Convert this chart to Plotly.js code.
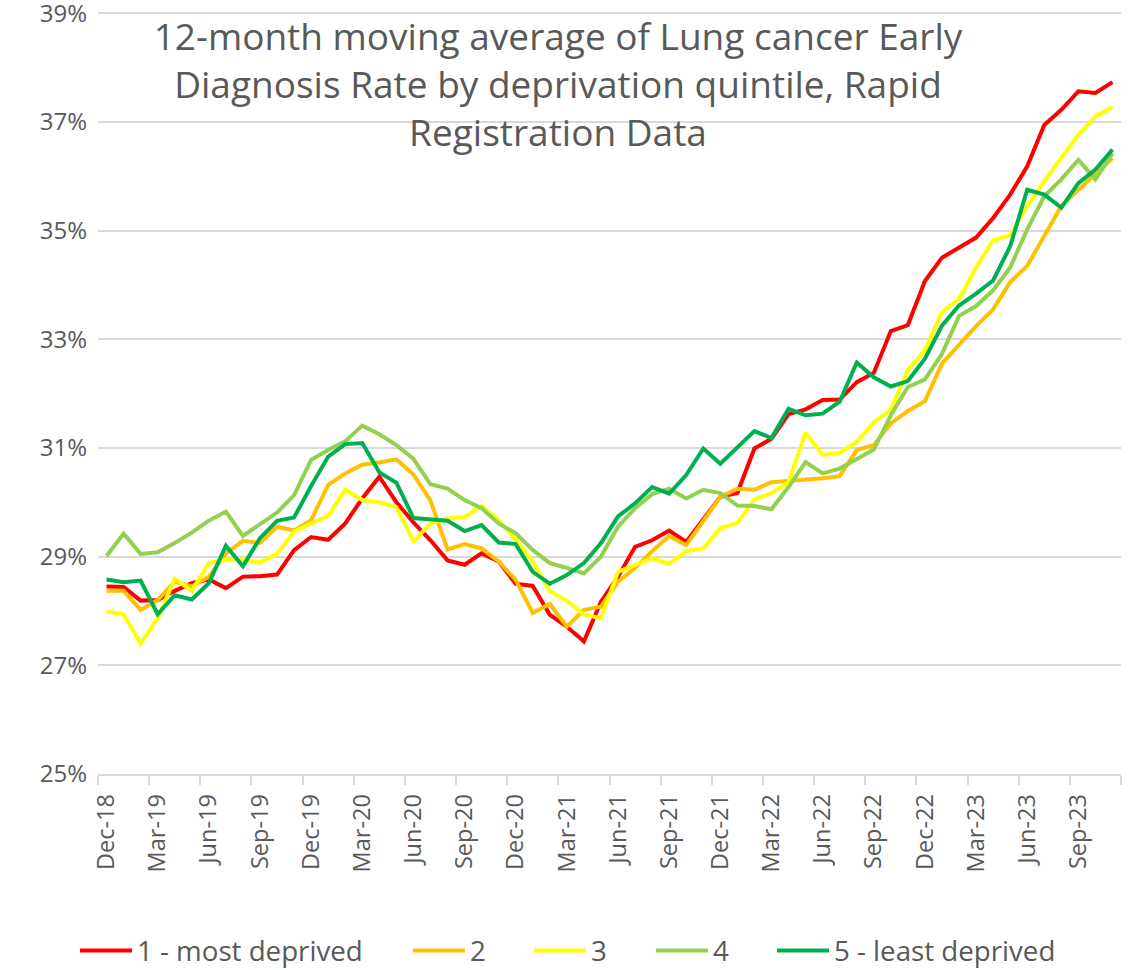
<!DOCTYPE html>
<html>
<head>
<meta charset="utf-8">
<script src="https://cdn.plot.ly/plotly-3.0.1.min.js"></script>
<style>
html,body{margin:0;padding:0;background:#ffffff;}
#chart{width:1135px;height:970px;}
</style>
</head>
<body>
<div id="chart"></div>
<script>
// ---- DATA ----
const months = [
  'Dec-18','Jan-19','Feb-19','Mar-19','Apr-19','May-19','Jun-19','Jul-19','Aug-19','Sep-19','Oct-19','Nov-19',
  'Dec-19','Jan-20','Feb-20','Mar-20','Apr-20','May-20','Jun-20','Jul-20','Aug-20','Sep-20','Oct-20','Nov-20',
  'Dec-20','Jan-21','Feb-21','Mar-21','Apr-21','May-21','Jun-21','Jul-21','Aug-21','Sep-21','Oct-21','Nov-21',
  'Dec-21','Jan-22','Feb-22','Mar-22','Apr-22','May-22','Jun-22','Jul-22','Aug-22','Sep-22','Oct-22','Nov-22',
  'Dec-22','Jan-23','Feb-23','Mar-23','Apr-23','May-23','Jun-23','Jul-23','Aug-23','Sep-23','Oct-23','Nov-23'
];
const seriesNames = ['1 - most deprived', '2', '3', '4', '5 - least deprived'];

// 12-month moving average early diagnosis rate (%)
const q1MostDeprived = [
  28.45,28.44,28.19,28.20,28.37,28.51,28.58,28.42,28.63,28.64,28.67,29.12,
  29.36,29.31,29.61,30.07,30.47,30.00,29.63,29.30,28.93,28.85,29.06,28.91,
  28.50,28.46,27.93,27.71,27.44,28.17,28.63,29.18,29.30,29.48,29.27,29.70,
  30.10,30.17,30.99,31.17,31.62,31.71,31.88,31.89,32.21,32.38,33.15,33.26,
  34.07,34.50,34.68,34.87,35.23,35.66,36.18,36.94,37.22,37.56,37.53,37.73
];
const q2 = [
  28.37,28.37,28.02,28.20,28.54,28.45,28.63,29.06,29.29,29.25,29.55,29.48,
  29.67,30.32,30.53,30.69,30.73,30.79,30.51,30.03,29.13,29.23,29.15,28.91,
  28.57,27.96,28.13,27.71,28.02,28.08,28.54,28.79,29.10,29.38,29.21,29.67,
  30.10,30.25,30.23,30.37,30.39,30.42,30.44,30.48,30.96,31.05,31.45,31.68,
  31.86,32.55,32.90,33.24,33.55,34.05,34.35,34.90,35.45,35.75,36.03,36.33
];
const q3 = [
  27.99,27.94,27.40,27.87,28.59,28.37,28.88,28.94,28.94,28.89,29.05,29.46,
  29.61,29.75,30.23,30.04,30.00,29.91,29.28,29.61,29.70,29.73,29.93,29.67,
  29.31,28.91,28.36,28.19,27.93,27.87,28.72,28.85,28.97,28.87,29.10,29.15,
  29.52,29.62,30.05,30.17,30.37,31.28,30.87,30.91,31.11,31.47,31.70,32.43,
  32.80,33.50,33.74,34.32,34.82,34.91,35.45,35.91,36.33,36.76,37.10,37.27
];
const q4 = [
  29.01,29.42,29.05,29.08,29.25,29.44,29.66,29.83,29.38,29.60,29.81,30.13,
  30.78,30.96,31.12,31.41,31.25,31.05,30.80,30.33,30.25,30.04,29.89,29.61,
  29.43,29.12,28.88,28.79,28.69,29.00,29.55,29.89,30.15,30.25,30.07,30.23,
  30.17,29.94,29.93,29.87,30.28,30.74,30.53,30.62,30.80,30.97,31.60,32.12,
  32.26,32.73,33.43,33.61,33.90,34.32,35.02,35.63,35.94,36.30,35.94,36.42
];
const q5LeastDeprived = [
  28.58,28.53,28.56,27.94,28.29,28.21,28.51,29.20,28.82,29.34,29.66,29.72,
  30.30,30.84,31.07,31.09,30.55,30.36,29.71,29.69,29.66,29.47,29.58,29.26,
  29.23,28.72,28.50,28.66,28.88,29.25,29.74,29.98,30.28,30.16,30.50,30.99,
  30.71,31.01,31.31,31.18,31.72,31.60,31.63,31.85,32.57,32.30,32.13,32.23,
  32.64,33.25,33.62,33.84,34.08,34.71,35.75,35.66,35.42,35.87,36.12,36.49
];
const yTickValues = [25, 27, 29, 31, 33, 35, 37, 39];
const yTickLabels = ['25%', '27%', '29%', '31%', '33%', '35%', '37%', '39%'];

// ---- STYLE ----
const colors = ['#FF0000', '#FFC000', '#FFFF00', '#92D050', '#00B050'];
const FONT = 'Open Sans, Noto Sans, sans-serif';
const GREY = '#595959';
const W = 1135, H = 970;
const legendTextStarts = [137, 470, 591, 713, 834];
const LEG_ITEM_W = 52;

const allSeries = [q1MostDeprived, q2, q3, q4, q5LeastDeprived];
const xIdx = months.map((m, i) => i);
const tickIdx = xIdx.filter(i => i % 3 === 0);
const tickText = tickIdx.map(i => months[i]);

const traces = allSeries.map((vals, k) => ({
  type: 'scatter',
  mode: 'lines',
  name: seriesNames[k],
  x: xIdx,
  y: vals,
  text: months,
  hovertemplate: '%{text}: %{y:.1f}%<extra>' + seriesNames[k] + '</extra>',
  line: {color: colors[k], width: 4, shape: 'linear'},
  legend: k === 0 ? 'legend' : 'legend' + (k + 1)
}));

function legendAt(px) {
  return {
    orientation: 'h',
    xref: 'container', yref: 'container',
    x: (px - LEG_ITEM_W - 10) / W, xanchor: 'left',
    y: 1 - 951 / H, yanchor: 'middle',
    itemwidth: LEG_ITEM_W,
    font: {family: FONT, size: 27.7, color: GREY},
    bgcolor: 'rgba(0,0,0,0)',
    borderwidth: 0
  };
}

// plot area: 25% at y=774 px, 54.35 px per percentage point, top edge at y=0
const Y_TOP_VALUE = 25 + 774 / 54.35;

const layout = {
  width: W, height: H,
  paper_bgcolor: '#ffffff', plot_bgcolor: '#ffffff',
  margin: {l: 98, r: 14, t: 0, b: 196, pad: 0},
  font: {family: FONT, color: GREY},
  title: {
    text: '12-month moving average of Lung cancer Early<br>Diagnosis Rate by deprivation quintile, Rapid<br>Registration Data',
    font: {family: FONT, size: 37, color: GREY},
    xref: 'container', yref: 'container',
    x: 558 / W, xanchor: 'center',
    y: 1 - 50 / H, yanchor: 'top'
  },
  xaxis: {
    type: 'linear',
    range: [-0.5, months.length - 0.5],
    tickmode: 'array', tickvals: tickIdx, ticktext: tickText,
    tickangle: -90,
    ticks: '',
    ticklabelstandoff: 9,
    ticklabeloverflow: 'allow',
    tickfont: {family: FONT, size: 23.5, color: GREY},
    showgrid: false, zeroline: false,
    showline: true, linecolor: '#d9d9d9', linewidth: 1.5,
    minor: {tickmode: 'linear', tick0: -0.5, dtick: 3, ticks: 'outside', ticklen: 9, tickwidth: 1.5, tickcolor: '#d9d9d9', showgrid: false},
    fixedrange: true
  },
  yaxis: {
    range: [25, Y_TOP_VALUE],
    tickmode: 'array', tickvals: yTickValues, ticktext: yTickLabels,
    ticks: '',
    ticklabelstandoff: 10,
    ticklabeloverflow: 'allow',
    tickfont: {family: FONT, size: 24, color: GREY},
    showgrid: true, gridcolor: '#d9d9d9', gridwidth: 1.5,
    zeroline: false, showline: false,
    fixedrange: true
  },
  showlegend: true,
  legend: legendAt(legendTextStarts[0]),
  legend2: legendAt(legendTextStarts[1]),
  legend3: legendAt(legendTextStarts[2]),
  legend4: legendAt(legendTextStarts[3]),
  legend5: legendAt(legendTextStarts[4])
};

Plotly.newPlot('chart', traces, layout, {displayModeBar: false, responsive: false});
</script>
</body>
</html>
